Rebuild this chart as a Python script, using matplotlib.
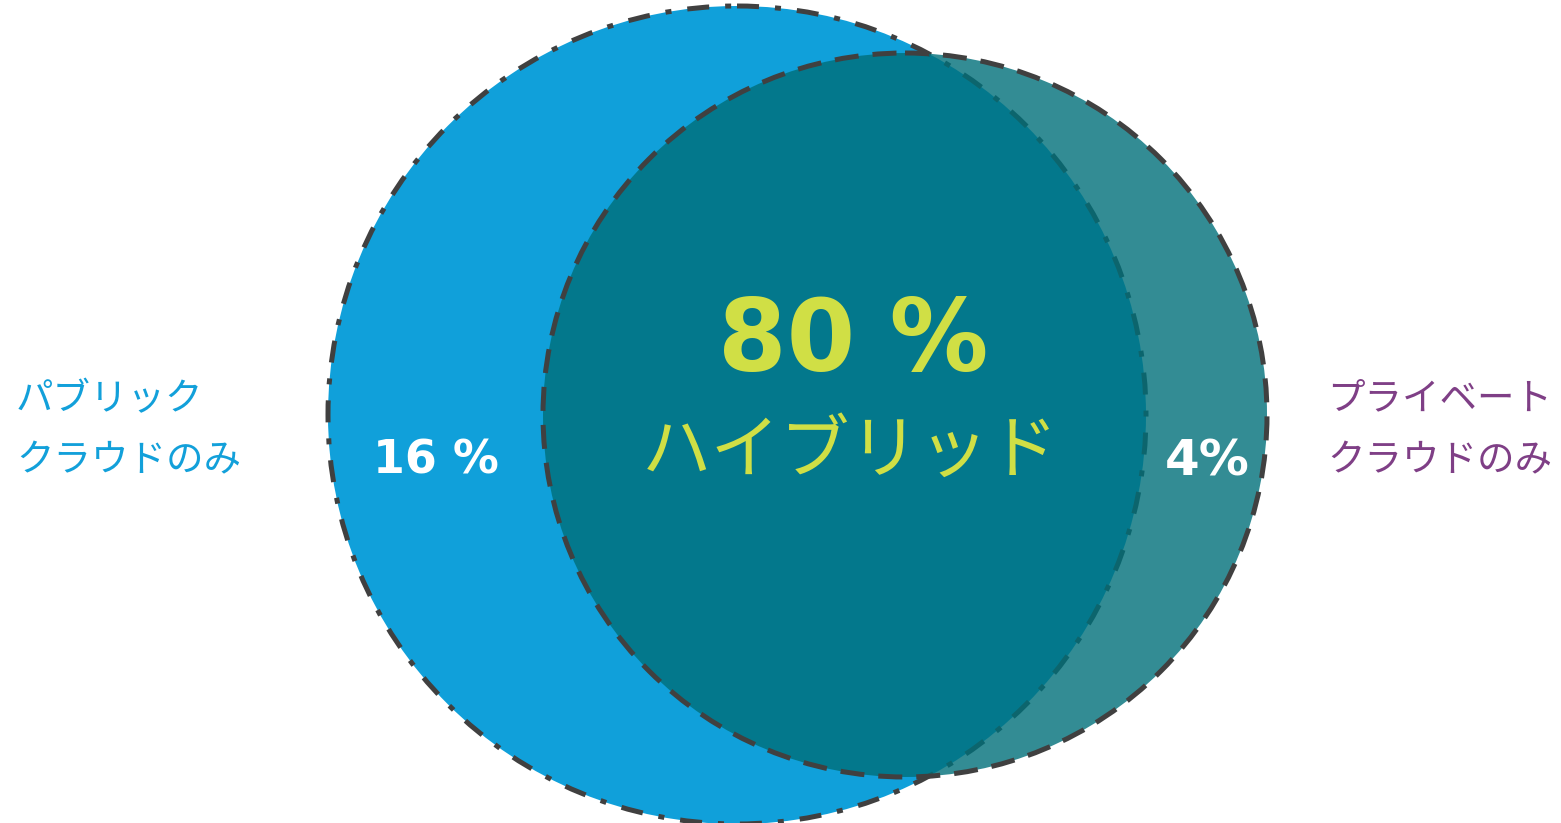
import matplotlib
matplotlib.use("Agg")
import matplotlib.pyplot as plt
from matplotlib.patches import Circle

plt.rcParams['font.family'] = ['Noto Sans CJK JP', 'DejaVu Sans']

# segments of the diagram
segment_names = ["パブリック\nクラウドのみ", "ハイブリッド", "プライベート\nクラウドのみ"]
segment_pcts = ["16 %", "80 %", "4%"]

# circle geometry in pixel coordinates (x, y, radius)
public_circle = (737, 415, 409)
private_circle = (905, 415, 362)

fig = plt.figure(figsize=(15.61, 8.23), dpi=100)
ax = fig.add_axes([0, 0, 1, 1])
ax.set_xlim(0, 1561)
ax.set_ylim(823, 0)
ax.set_aspect('equal')
ax.axis('off')

edge = '#404040'
lw = 3.6

# public cloud circle (dash-dot outline)
c1 = Circle(public_circle[:2], public_circle[2], facecolor='#10A0DA',
            edgecolor=edge, linewidth=lw, linestyle=(0, (4.4, 3.2, 1.2, 3.2)),
            zorder=1)
ax.add_patch(c1)

# private cloud circle, semi-transparent fill so overlap turns darker
c2 = Circle(private_circle[:2], private_circle[2],
            facecolor=(0.0, 111 / 255, 121 / 255, 0.8),
            edgecolor=edge, linewidth=lw, linestyle=(0, (4.8, 2.8)),
            zorder=2)
ax.add_patch(c2)

# percentages
ax.text(436, 461, segment_pcts[0], color='white', fontsize=33,
        fontweight='bold', family='DejaVu Sans', ha='center', va='center', zorder=5)
ax.text(853, 343, segment_pcts[1], color='#D0DF45', fontsize=71,
        fontweight='bold', family='DejaVu Sans', ha='center', va='center', zorder=5)
ax.text(1207, 461, segment_pcts[2], color='white', fontsize=36,
        fontweight='bold', family='DejaVu Sans', ha='center', va='center', zorder=5)

# hybrid label
ax.text(850, 452, segment_names[1], color='#D0DF45', fontsize=50,
        ha='center', va='center', zorder=5)

# side labels
ax.text(16, 430, segment_names[0], color='#12A0DA', fontsize=27,
        ha='left', va='center', linespacing=1.75)
ax.text(1440, 430, segment_names[2], color='#7F3F86', fontsize=27,
        ha='center', va='center', linespacing=1.75, multialignment='center')

fig.savefig('out.png', dpi=100)
